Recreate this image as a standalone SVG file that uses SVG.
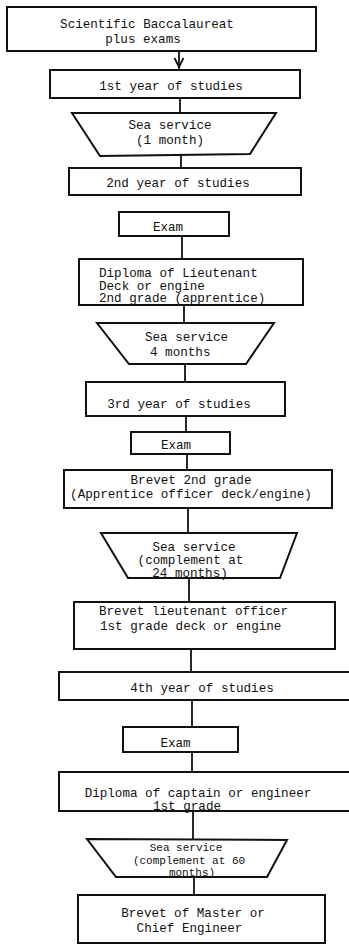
<svg xmlns="http://www.w3.org/2000/svg" width="349" height="946" viewBox="0 0 349 946">
<defs>
<style>
.b{fill:#fff;stroke:#111;stroke-width:2}
.c{fill:none;stroke:#111;stroke-width:1.8}
text{font-family:"Liberation Mono","DejaVu Sans Mono",monospace;font-size:12.6px;fill:#111}
.m{text-anchor:middle}
.s{font-size:11px}
</style>
</defs>
<rect width="349" height="946" fill="#fff"/>
<g id="connectors">
<line class="c" x1="179" y1="51" x2="179" y2="69"/>
<path class="c" d="M174.5,58 L179,67 L183.5,58"/>
<line class="c" x1="180" y1="98" x2="180" y2="113"/>
<line class="c" x1="181" y1="154" x2="181" y2="168"/>
<line class="c" x1="182" y1="236" x2="182" y2="259"/>
<line class="c" x1="184" y1="305" x2="184" y2="323"/>
<line class="c" x1="185" y1="364" x2="185" y2="382"/>
<line class="c" x1="186" y1="416" x2="186" y2="432"/>
<line class="c" x1="187" y1="454" x2="187" y2="470"/>
<line class="c" x1="188" y1="508" x2="188" y2="533"/>
<line class="c" x1="189" y1="578" x2="189" y2="602"/>
<line class="c" x1="191" y1="649" x2="191" y2="672"/>
<line class="c" x1="192" y1="700" x2="192" y2="727"/>
<line class="c" x1="192" y1="752" x2="192" y2="772"/>
<line class="c" x1="193" y1="811" x2="193" y2="840"/>
<line class="c" x1="194" y1="877" x2="194" y2="895"/>
<line class="c" x1="200" y1="938" x2="200" y2="943"/>
</g>
<g id="n1"><rect class="b" x="7" y="7" width="309" height="44"/>
<text class="m" x="147" y="28">Scientific Baccalaureat</text>
<text class="m" x="143" y="43">plus exams</text></g>
<g id="n2"><rect class="b" x="50" y="70" width="250" height="28"/>
<text class="m" x="171" y="90">1st year of studies</text></g>
<g id="n3"><polygon class="b" points="72,113 276,113 250,154 100,156"/>
<text class="m" x="170" y="129">Sea service</text>
<text class="m" x="170" y="144">(1 month)</text></g>
<g id="n4"><rect class="b" x="69" y="168" width="232" height="27"/>
<text class="m" x="178" y="187">2nd year of studies</text></g>
<g id="n5"><rect class="b" x="119" y="212" width="110" height="24"/>
<text class="m" x="168" y="231">Exam</text></g>
<g id="n6"><rect class="b" x="79" y="259" width="224" height="46"/>
<text x="99" y="277">Diploma of Lieutenant</text>
<text x="99" y="289.5">Deck or engine</text>
<text x="99" y="302">2nd grade (apprentice)</text></g>
<g id="n7"><polygon class="b" points="97,323 274,323 246,364 129,364"/>
<text x="145" y="341">Sea service</text>
<text x="150" y="356">4 months</text></g>
<g id="n8"><rect class="b" x="86" y="382" width="199" height="34"/>
<text class="m" x="179" y="408">3rd year of studies</text></g>
<g id="n9"><rect class="b" x="131" y="432" width="99" height="22"/>
<text class="m" x="176" y="449">Exam</text></g>
<g id="n10"><rect class="b" x="64" y="470" width="268" height="38"/>
<text class="m" x="191" y="484">Brevet 2nd grade</text>
<text class="m" x="191" y="498">(Apprentice officer deck/engine)</text></g>
<g id="n11"><polygon class="b" points="101,533 297,533 280,578 128,578"/>
<text class="m" x="194" y="551">Sea service</text>
<text class="m" x="190.5" y="564">(complement at</text>
<text class="m" x="190" y="577">24 months)</text></g>
<g id="n12"><rect class="b" x="74" y="602" width="261" height="47"/>
<text x="99" y="615">Brevet lieutenant officer</text>
<text x="100" y="630">1st grade deck or engine</text></g>
<g id="n13"><rect class="b" x="59" y="672" width="300" height="28"/>
<text class="m" x="202" y="692">4th year of studies</text></g>
<g id="n14"><rect class="b" x="123" y="727" width="115" height="25"/>
<text class="m" x="175.5" y="747">Exam</text></g>
<g id="n15"><rect class="b" x="59" y="772" width="300" height="39"/>
<text class="m" x="198" y="797">Diploma of captain or engineer</text>
<text class="m" x="187" y="810">1st grade</text></g>
<g id="n16"><polygon class="b" points="87,839 287,840 267,877 116,877"/>
<text class="m s" x="186" y="851">Sea service</text>
<text class="m s" x="189" y="863.5">(complement at 60</text>
<text class="m s" x="192" y="876">months)</text></g>
<g id="n17"><rect class="b" x="78" y="895" width="247" height="48"/>
<text class="m" x="193" y="917">Brevet of Master or</text>
<text class="m" x="189.5" y="932">Chief Engineer</text></g>
</svg>
